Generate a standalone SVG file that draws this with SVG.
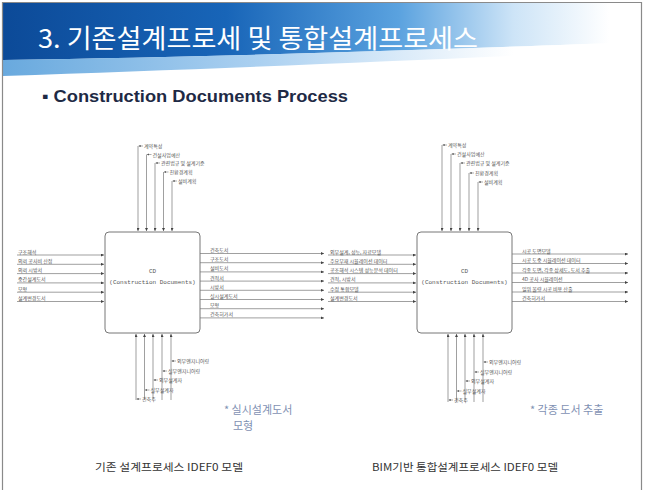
<svg xmlns="http://www.w3.org/2000/svg" width="648" height="490" viewBox="0 0 648 490">
  <style>
    .lbl { font-family: "Noto Sans CJK KR", "Noto Sans", sans-serif; font-size: 5px; fill: #555; }
    .box { fill: #fff; stroke: #777; stroke-width: 1; }
    .boxtxt { font-family: "Liberation Mono", monospace; font-size: 6px; fill: #555; text-anchor: middle; }
    .ln { fill: none; stroke: #777; stroke-width: 0.7; }
    .lead { fill: none; stroke: #777; stroke-width: 0.6; }
    .note { font-family: "Noto Sans CJK KR", sans-serif; font-size: 11px; fill: #7f91b3; }
    .cap { font-family: "Noto Sans CJK KR", sans-serif; font-size: 10px; fill: #333; }
  </style>
  <defs>
    <linearGradient id="bannerGrad" x1="0" y1="0" x2="1" y2="0">
      <stop offset="0" stop-color="#0c4a98"/>
      <stop offset="0.35" stop-color="#1865b8"/>
      <stop offset="0.62" stop-color="#5aa2df"/>
      <stop offset="0.8" stop-color="#cde4f7"/>
      <stop offset="0.95" stop-color="#ffffff"/>
    </linearGradient>
    <linearGradient id="swooshGrad" x1="0" y1="0" x2="1" y2="0">
      <stop offset="0" stop-color="#4e9ad8"/>
      <stop offset="0.4" stop-color="#9cc8ee"/>
      <stop offset="0.8" stop-color="#ffffff"/>
    </linearGradient>
    <marker id="arr" viewBox="0 0 4 4" refX="4" refY="2" markerWidth="3" markerHeight="3" markerUnits="userSpaceOnUse" orient="auto">
      <path d="M0,0 L4,2 L0,4 z" fill="#444"/>
    </marker>
    <marker id="tip" viewBox="0 0 4 4" refX="4" refY="2" markerWidth="2.2" markerHeight="2.2" markerUnits="userSpaceOnUse" orient="auto">
      <path d="M0,0 L4,2 L0,4 z" fill="#555"/>
    </marker>
  </defs>

  <rect x="0" y="0" width="648" height="490" fill="#fff"/>

  <!-- title banner -->
  <path d="M3,3 H641 V42 C 480,48 260,56 3,60 Z" fill="url(#bannerGrad)"/>
  <path d="M3,60 C 260,56 480,48 641,42 V50 C 470,58 240,68 3,76 Z" fill="url(#swooshGrad)" opacity="0.85"/>
  <text x="38" y="48" font-family="Noto Sans CJK KR, sans-serif" font-size="26" fill="#fff" textLength="440" lengthAdjust="spacingAndGlyphs">3. 기존설계프로세 및 통합설계프로세스</text>

  <!-- slide frame -->
  <path d="M2.5,490 V2.5 H641.5 V490" fill="none" stroke="#8a8a8a" stroke-width="1.2"/>

  <text x="42" y="102" font-family="Liberation Sans, Arial, sans-serif" font-weight="bold" font-size="17" fill="#1e2a45" textLength="306" lengthAdjust="spacingAndGlyphs">▪ Construction Documents Process</text>

  <!-- process nodes -->
  <g id="cd-existing">
    <rect class="box" x="105" y="232" width="95" height="101" rx="4"/>
    <text class="boxtxt" x="152.5" y="273">CD</text>
    <text class="boxtxt" x="152.5" y="284">(Construction Documents)</text>
  </g>
  <g id="cd-bim">
    <rect class="box" x="417" y="232" width="95" height="101" rx="4"/>
    <text class="boxtxt" x="464.5" y="273">CD</text>
    <text class="boxtxt" x="464.5" y="284">(Construction Documents)</text>
  </g>

  <g id="connectors">
    <!-- existing process: controls -->
    <path class="ln" d="M138,146 V231" marker-end="url(#arr)"/>
    <path class="ln" d="M146.5,154.5 V231" marker-end="url(#arr)"/>
    <path class="ln" d="M155,163 V231" marker-end="url(#arr)"/>
    <path class="ln" d="M163.5,172 V231" marker-end="url(#arr)"/>
    <path class="ln" d="M172,181 V231" marker-end="url(#arr)"/>
    <path class="lead" d="M143,146 H138.5" marker-end="url(#tip)"/>
    <path class="lead" d="M151.5,154.5 H147" marker-end="url(#tip)"/>
    <path class="lead" d="M160,163 H155.5" marker-end="url(#tip)"/>
    <path class="lead" d="M168.5,172 H164" marker-end="url(#tip)"/>
    <path class="lead" d="M177,181 H172.5" marker-end="url(#tip)"/>

    <!-- existing process: inputs -->
    <path class="ln" d="M17,255 H104" marker-end="url(#arr)"/>
    <path class="ln" d="M17,264.3 H104" marker-end="url(#arr)"/>
    <path class="ln" d="M17,273.6 H104" marker-end="url(#arr)"/>
    <path class="ln" d="M17,282.9 H104" marker-end="url(#arr)"/>
    <path class="ln" d="M17,292.2 H104" marker-end="url(#arr)"/>
    <path class="ln" d="M17,301.5 H104" marker-end="url(#arr)"/>

    <!-- existing process: outputs -->
    <path class="ln" d="M200,253.5 H324" marker-end="url(#arr)"/>
    <path class="ln" d="M200,262.7 H324" marker-end="url(#arr)"/>
    <path class="ln" d="M200,271.9 H324" marker-end="url(#arr)"/>
    <path class="ln" d="M200,281.1 H324" marker-end="url(#arr)"/>
    <path class="ln" d="M200,290.3 H324" marker-end="url(#arr)"/>
    <path class="ln" d="M200,299.5 H324" marker-end="url(#arr)"/>
    <path class="ln" d="M200,308.7 H324" marker-end="url(#arr)"/>
    <path class="ln" d="M200,317.9 H324" marker-end="url(#arr)"/>

    <!-- existing process: mechanisms -->
    <path class="ln" d="M136,400 V334" marker-end="url(#arr)"/>
    <path class="ln" d="M144.5,400 V334" marker-end="url(#arr)"/>
    <path class="ln" d="M153,400 V334" marker-end="url(#arr)"/>
    <path class="ln" d="M162,400 V334" marker-end="url(#arr)"/>
    <path class="ln" d="M171,400 V334" marker-end="url(#arr)"/>
    <path class="lead" d="M176,361 H171.5" marker-end="url(#tip)"/>
    <path class="lead" d="M167,371 H162.5" marker-end="url(#tip)"/>
    <path class="lead" d="M158,380 H153.5" marker-end="url(#tip)"/>
    <path class="lead" d="M149.5,390 H145" marker-end="url(#tip)"/>
    <path class="lead" d="M141,399 H136.5" marker-end="url(#tip)"/>

    <!-- BIM process: controls -->
    <path class="ln" d="M442,145 V231" marker-end="url(#arr)"/>
    <path class="ln" d="M451,154 V231" marker-end="url(#arr)"/>
    <path class="ln" d="M460,163 V231" marker-end="url(#arr)"/>
    <path class="ln" d="M469,173 V231" marker-end="url(#arr)"/>
    <path class="ln" d="M478,182 V231" marker-end="url(#arr)"/>
    <path class="lead" d="M447,145 H442.5" marker-end="url(#tip)"/>
    <path class="lead" d="M456,154 H451.5" marker-end="url(#tip)"/>
    <path class="lead" d="M465,163 H460.5" marker-end="url(#tip)"/>
    <path class="lead" d="M474,173 H469.5" marker-end="url(#tip)"/>
    <path class="lead" d="M483,182 H478.5" marker-end="url(#tip)"/>

    <!-- BIM process: inputs -->
    <path class="ln" d="M328,255 H416" marker-end="url(#arr)"/>
    <path class="ln" d="M328,264.3 H416" marker-end="url(#arr)"/>
    <path class="ln" d="M328,273.6 H416" marker-end="url(#arr)"/>
    <path class="ln" d="M328,282.9 H416" marker-end="url(#arr)"/>
    <path class="ln" d="M328,292.2 H416" marker-end="url(#arr)"/>
    <path class="ln" d="M328,301.5 H416" marker-end="url(#arr)"/>

    <!-- BIM process: outputs -->
    <path class="ln" d="M512,254 H628" marker-end="url(#arr)"/>
    <path class="ln" d="M512,263.5 H628" marker-end="url(#arr)"/>
    <path class="ln" d="M512,273 H628" marker-end="url(#arr)"/>
    <path class="ln" d="M512,282.5 H628" marker-end="url(#arr)"/>
    <path class="ln" d="M512,292 H628" marker-end="url(#arr)"/>
    <path class="ln" d="M512,301.5 H628" marker-end="url(#arr)"/>

    <!-- BIM process: mechanisms -->
    <path class="ln" d="M448,402 V334" marker-end="url(#arr)"/>
    <path class="ln" d="M456.5,402 V334" marker-end="url(#arr)"/>
    <path class="ln" d="M465,402 V334" marker-end="url(#arr)"/>
    <path class="ln" d="M474,402 V334" marker-end="url(#arr)"/>
    <path class="ln" d="M483,402 V334" marker-end="url(#arr)"/>
    <path class="lead" d="M488,362 H483.5" marker-end="url(#tip)"/>
    <path class="lead" d="M479,372 H474.5" marker-end="url(#tip)"/>
    <path class="lead" d="M470,381 H465.5" marker-end="url(#tip)"/>
    <path class="lead" d="M461.5,391 H457" marker-end="url(#tip)"/>
    <path class="lead" d="M453,400 H448.5" marker-end="url(#tip)"/>
  </g>

  <!-- existing process labels -->
  <g id="labels-existing">
    <text class="lbl" x="144" y="148">계약특성</text>
    <text class="lbl" x="152.5" y="156.5">건설사업예산</text>
    <text class="lbl" x="161" y="165">관련법규 및 설계기준</text>
    <text class="lbl" x="169.5" y="174">친환경계획</text>
    <text class="lbl" x="178" y="183">설비계획</text>

    <text class="lbl" x="18" y="253.5">구조해석</text>
    <text class="lbl" x="18" y="262.8">의뢰 공사비 산정</text>
    <text class="lbl" x="18" y="272.1">의뢰 시방서</text>
    <text class="lbl" x="18" y="281.4">중간설계도서</text>
    <text class="lbl" x="18" y="290.7">모형</text>
    <text class="lbl" x="18" y="300">설계변경도서</text>

    <text class="lbl" x="210" y="252">건축도서</text>
    <text class="lbl" x="210" y="261.2">구조도서</text>
    <text class="lbl" x="210" y="270.4">설비도서</text>
    <text class="lbl" x="210" y="279.6">견적서</text>
    <text class="lbl" x="210" y="288.8">시방서</text>
    <text class="lbl" x="210" y="298">실시설계도서</text>
    <text class="lbl" x="210" y="307.2">모형</text>
    <text class="lbl" x="210" y="316.4">건축허가서</text>

    <text class="lbl" x="177" y="363">외부엔지니어링</text>
    <text class="lbl" x="168" y="373">실무엔지니어링</text>
    <text class="lbl" x="159" y="382">외부설계자</text>
    <text class="lbl" x="150.5" y="392">실무설계자</text>
    <text class="lbl" x="142" y="401">건축주</text>
  </g>

  <!-- BIM process labels -->
  <g id="labels-bim">
    <text class="lbl" x="448" y="147">계약특성</text>
    <text class="lbl" x="457" y="156">건설사업예산</text>
    <text class="lbl" x="466" y="165">관련법규 및 설계기준</text>
    <text class="lbl" x="475" y="175">친환경계획</text>
    <text class="lbl" x="484" y="184">설비계획</text>

    <text class="lbl" x="330" y="253.5">외부설계, 성능, 자료모델</text>
    <text class="lbl" x="330" y="262.8">주요부재 시뮬레이션 데이터</text>
    <text class="lbl" x="330" y="272.1">공조해석 시스템 성능분석 데이터</text>
    <text class="lbl" x="330" y="281.4">견적, 시방서</text>
    <text class="lbl" x="330" y="290.7">수정 통합모델</text>
    <text class="lbl" x="330" y="300">설계변경도서</text>

    <text class="lbl" x="522" y="252.5">시공 도면모델</text>
    <text class="lbl" x="522" y="262">시공 도중 시뮬레이션 데이터</text>
    <text class="lbl" x="522" y="271.5">각종 도면, 각종 상세도, 도서 추출</text>
    <text class="lbl" x="522" y="281">4D 공사 시뮬레이션</text>
    <text class="lbl" x="522" y="290.5">일위 물량 시공 비용 산출</text>
    <text class="lbl" x="522" y="300">건축허가서</text>

    <text class="lbl" x="489" y="364">외부엔지니어링</text>
    <text class="lbl" x="480" y="374">실무엔지니어링</text>
    <text class="lbl" x="471" y="383">외부설계자</text>
    <text class="lbl" x="462.5" y="393">실무설계자</text>
    <text class="lbl" x="454" y="402">건축주</text>
  </g>

  <!-- notes and captions -->
  <text class="note" x="224" y="414">* 실시설계도서</text>
  <text class="note" x="233" y="430">모형</text>
  <text class="note" x="530" y="414">* 각종 도서 추출</text>

  <text class="cap" x="95" y="471" textLength="148" lengthAdjust="spacingAndGlyphs">기존 설계프로세스 IDEF0 모델</text>
  <text class="cap" x="372" y="471" textLength="186" lengthAdjust="spacingAndGlyphs">BIM기반 통합설계프로세스 IDEF0 모델</text>
</svg>
